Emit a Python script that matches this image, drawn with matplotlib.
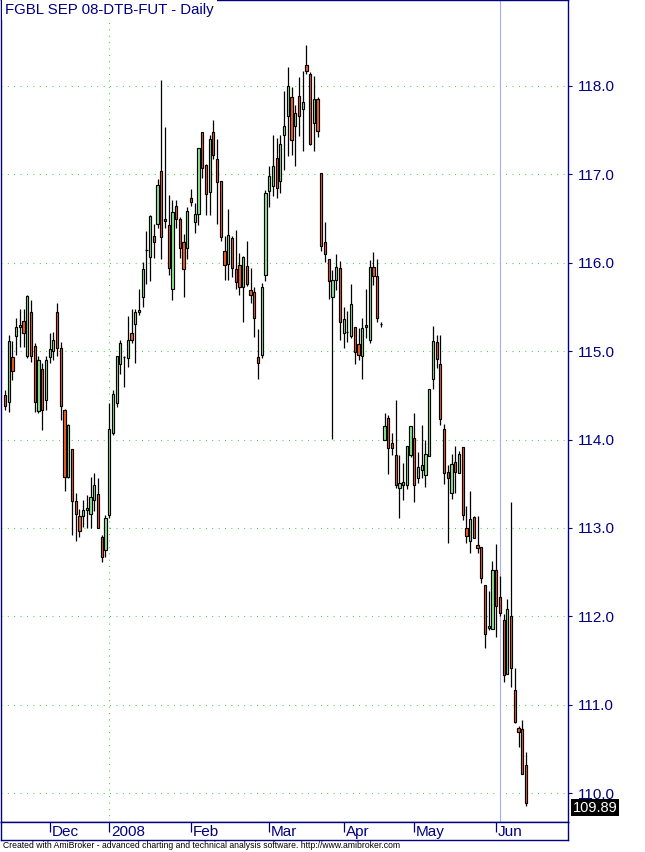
import matplotlib
matplotlib.use('Agg')
import matplotlib.pyplot as plt
import matplotlib.transforms as mtransforms
import numpy as np

# ---------------- data (daily OHLC, FGBL SEP 08) ----------------
opens = [114.50, 114.42, 114.93, 115.17, 115.27, 115.34, 114.94, 115.44, 115.06, 114.32,
         114.80, 114.45, 114.93, 115.00, 115.44, 115.03, 114.33, 113.58, 113.89, 113.30,
         113.13, 113.13, 113.20, 113.16, 113.32, 113.38, 112.90, 112.75, 113.15, 114.07,
         114.41, 114.85, 114.93, 114.92, 115.20, 115.31, 115.44, 115.61, 116.14, 116.07,
         116.30, 116.44, 117.04, 116.50, 116.43, 115.70, 116.64, 116.49, 116.23, 116.17,
         116.73, 116.46, 116.55, 117.48, 117.11, 116.80, 117.48, 117.17, 116.93, 116.13,
         115.99, 116.28, 115.93, 115.97, 115.72, 115.96, 115.69, 115.67, 114.93, 114.96,
         115.86, 116.81, 116.87, 117.19, 116.93, 117.45, 117.66, 117.88, 117.55, 117.89,
         117.74, 118.24, 118.14, 117.58, 117.85, 117.01, 116.23, 116.04, 115.61, 115.80,
         115.94, 115.21, 115.22, 115.17, 115.27, 115.08, 114.95, 115.30, 115.13, 115.95,
         115.85, 115.31, 114.00, 114.24, 113.96, 113.83, 113.45, 113.48, 113.49, 113.82,
         114.02, 113.57, 113.66, 113.60, 113.81, 114.68, 115.10, 114.85, 114.12, 113.63,
         113.40, 113.74, 113.62, 113.91, 113.00, 112.85, 113.12, 112.81, 112.78, 112.35,
         111.87, 111.86, 112.52, 112.22, 111.96, 111.35, 112.00, 111.17, 110.73, 110.72,
         110.32]
highs = [114.56, 115.18, 115.11, 115.37, 115.48, 115.48, 115.63, 115.58, 115.09, 114.94,
         114.86, 114.94, 115.20, 115.22, 115.55, 115.10, 114.34, 114.17, 113.89, 113.39,
         113.21, 113.32, 113.37, 113.58, 113.62, 113.57, 112.92, 113.15, 114.41, 114.56,
         114.94, 115.13, 114.95, 115.40, 115.48, 115.48, 115.70, 116.01, 116.36, 116.54,
         116.44, 116.95, 118.07, 117.54, 116.77, 116.71, 116.71, 116.52, 116.33, 116.63,
         116.84, 116.68, 117.30, 117.48, 117.12, 117.45, 117.62, 117.40, 116.93, 116.30,
         116.61, 116.30, 116.37, 116.11, 116.08, 116.25, 115.94, 115.73, 115.25, 115.77,
         116.82, 117.09, 117.45, 117.41, 117.45, 117.94, 118.21, 117.99, 117.79, 118.10,
         118.17, 118.46, 118.16, 118.11, 117.87, 117.01, 116.46, 116.04, 115.92, 116.10,
         116.02, 115.50, 115.45, 115.76, 115.27, 115.26, 115.37, 115.70, 116.03, 116.12,
         116.04, 115.33, 114.30, 114.28, 114.07, 114.45, 113.82, 113.73, 113.93, 114.15,
         114.30, 113.86, 114.16, 114.00, 114.57, 115.28, 115.18, 115.18, 114.17, 113.71,
         113.84, 113.93, 113.87, 113.91, 113.25, 113.42, 113.13, 113.13, 112.78, 112.35,
         112.29, 112.62, 112.82, 112.46, 112.03, 112.20, 113.29, 111.41, 110.76, 110.83,
         110.46]
lows = [114.33, 114.31, 114.67, 114.96, 115.05, 115.05, 114.92, 114.88, 114.31, 114.30,
        114.11, 114.33, 114.86, 114.90, 114.95, 114.22, 113.42, 113.56, 112.92, 112.85,
        112.90, 113.01, 113.00, 113.00, 113.19, 113.00, 112.61, 112.67, 113.11, 114.05,
        114.37, 114.74, 114.59, 114.82, 115.09, 114.86, 115.41, 115.50, 115.76, 115.79,
        116.05, 116.39, 116.04, 116.39, 115.86, 115.58, 116.39, 116.05, 115.61, 116.04,
        116.64, 116.34, 116.43, 116.96, 116.54, 116.54, 117.17, 116.44, 116.25, 115.80,
        115.80, 115.84, 115.70, 115.63, 115.33, 115.74, 115.54, 115.16, 114.69, 114.92,
        115.79, 116.63, 116.76, 116.73, 116.79, 117.05, 117.21, 117.22, 117.09, 117.43,
        117.26, 118.14, 117.33, 117.26, 117.42, 116.13, 116.01, 115.59, 114.01, 115.69,
        115.13, 115.04, 115.10, 115.15, 114.85, 114.90, 114.68, 115.15, 115.09, 115.75,
        115.33, 115.27, 113.99, 113.61, 113.82, 113.45, 113.11, 113.32, 113.44, 113.80,
        113.29, 113.51, 113.56, 113.46, 113.81, 114.57, 114.81, 114.16, 113.50, 112.83,
        113.33, 113.40, 113.62, 113.09, 112.83, 112.72, 112.88, 112.72, 112.38, 111.64,
        111.84, 111.86, 111.76, 112.00, 111.26, 111.35, 111.20, 110.79, 110.52, 110.22,
        109.85]
closes = [114.38, 115.11, 114.78, 115.27, 115.30, 115.20, 115.62, 114.94, 114.42, 114.90,
          114.33, 114.90, 115.02, 115.13, 115.03, 114.38, 113.58, 114.16, 113.30, 113.16,
          112.97, 113.20, 113.23, 113.35, 113.48, 113.00, 112.67, 113.11, 114.12, 114.52,
          114.94, 115.09, 114.93, 115.13, 115.13, 115.44, 115.47, 115.93, 116.14, 116.53,
          116.24, 116.88, 116.29, 116.47, 115.94, 116.57, 116.49, 116.17, 115.93, 116.59,
          116.69, 116.55, 117.30, 117.07, 116.78, 117.40, 117.22, 116.91, 116.29, 115.97,
          116.31, 115.94, 115.78, 115.73, 116.06, 115.76, 115.64, 115.37, 114.87, 115.72,
          116.79, 116.98, 117.10, 116.85, 117.34, 117.55, 118.00, 117.39, 117.70, 117.66,
          117.82, 118.17, 117.34, 117.85, 117.49, 116.19, 116.10, 115.79, 115.80, 115.95,
          115.33, 115.36, 115.22, 115.53, 114.99, 114.96, 115.26, 115.27, 115.95, 115.85,
          115.38, 115.31, 114.15, 113.90, 113.90, 113.49, 113.51, 113.52, 113.93, 114.15,
          113.49, 113.69, 113.71, 113.84, 114.57, 115.11, 114.91, 114.23, 113.62, 113.56,
          113.72, 113.63, 113.84, 113.15, 112.91, 113.10, 112.88, 112.77, 112.43, 111.80,
          111.89, 112.52, 112.12, 112.04, 111.33, 112.08, 111.42, 110.80, 110.69, 110.22,
          109.89]

month_labels = ['Dec', '2008', 'Feb', 'Mar', 'Apr', 'May', 'Jun']
month_start_idx = [12, 28, 50, 71, 91, 110, 132]
year_start_idx = 28
selected_idx = 133
y_ticks = [110.0, 111.0, 112.0, 113.0, 114.0, 115.0, 116.0, 117.0, 118.0]
last_close = closes[-1]
title = 'FGBL SEP 08-DTB-FUT - Daily'
footer = ('Created with AmiBroker - advanced charting and technical analysis software. '
          'http://www.amibroker.com')

# ---------------- styling ----------------
NAVY = '#000080'
GRID = '#22CC22'
UPC = '#90EE90'
DNC = '#FF5F1F'
FONT = 'Liberation Sans'

W, H = 645, 852
fig = plt.figure(figsize=(W / 100, H / 100), dpi=100)
fig.patch.set_facecolor('white')

plot_top, plot_bot, plot_left, plot_right = 0, 822, 1, 568
ax = fig.add_axes([plot_left / W, 1 - plot_bot / H,
                   (plot_right - plot_left) / W, (plot_bot - plot_top) / H])

n = len(opens)
idx = np.arange(n)
o = np.array(opens)
c = np.array(closes)
hi = np.array(highs)
lo = np.array(lows)

xmin, xmax = -1.075, 151.3
ymin, ymax = 109.672, 118.973
ax.set_xlim(xmin, xmax)
ax.set_ylim(ymin, ymax)

# grid
ax.hlines(y_ticks, xmin, xmax, colors=GRID, linestyles=(0, (0.75, 5.0)), lw=0.8, zorder=1)
ax.vlines([year_start_idx], ymin, ymax, colors=GRID, linestyles=(0, (0.75, 5.0)), lw=0.8, zorder=1)
# selected bar line
ax.vlines([selected_idx], ymin, ymax, colors='#A8A8FF', lw=0.8, zorder=1)

# candles
colors = np.where(c > o, UPC, np.where(c < o, DNC, 'black'))
body_h = np.maximum(np.abs(c - o), 0.0015)
ax.vlines(idx, lo, hi, colors='black', lw=0.9, zorder=2)
ax.bar(idx, body_h, bottom=np.minimum(o, c), width=0.6, color=colors,
       edgecolor='black', linewidth=0.85, zorder=3)

# axes styling
for s in ax.spines.values():
    s.set_color(NAVY)
    s.set_linewidth(1.0)
ax.set_xticks([])
ax.yaxis.tick_right()
ax.set_yticks(y_ticks)
ax.set_yticklabels(['%.1f' % v for v in y_ticks])
ax.tick_params(axis='y', colors=NAVY, length=3, width=0.8, pad=4,
               labelsize=11, labelcolor=NAVY)
for lab in ax.get_yticklabels():
    lab.set_fontfamily(FONT)

# last value box (nudged a few pixels down so it sits just under the 110.0 label)
trans = mtransforms.blended_transform_factory(ax.transAxes, ax.transData)
trans = trans + mtransforms.ScaledTranslation(0, -5 / 100, fig.dpi_scale_trans)
ax.text(1.0 + 5 / (plot_right - plot_left), last_close, '%.2f' % last_close,
        transform=trans, ha='left', va='center', color='white', fontsize=10.5,
        family=FONT, clip_on=False, zorder=10,
        bbox=dict(facecolor='black', edgecolor='none', pad=1.2))

# title
fig.text(5 / W, 1 - 10 / H, title, ha='left', va='center', fontsize=10.8,
         color=NAVY, family=FONT, zorder=20,
         bbox=dict(facecolor='white', edgecolor='none', pad=2.5))

# x-axis strip
ax2 = fig.add_axes([plot_left / W, 1 - 840 / H, (plot_right - plot_left) / W, (840 - plot_bot) / H])
ax2.set_xlim(xmin, xmax)
ax2.set_ylim(0, 1)
ax2.set_xticks([])
ax2.set_yticks([])
for s in ax2.spines.values():
    s.set_color(NAVY)
    s.set_linewidth(1.0)
ax2.vlines(month_start_idx, 0.45, 1.0, colors=NAVY, lw=0.9)
for m, lab in zip(month_start_idx, month_labels):
    ax2.text(m + 0.5, 0.42, lab, ha='left', va='center', fontsize=11,
             color=NAVY, family=FONT)

# footer
fig.text(3 / W, 1 - 846 / H, footer, ha='left', va='center', fontsize=6.2,
         color='black', family=FONT)

fig.savefig('out.png', dpi=100)
